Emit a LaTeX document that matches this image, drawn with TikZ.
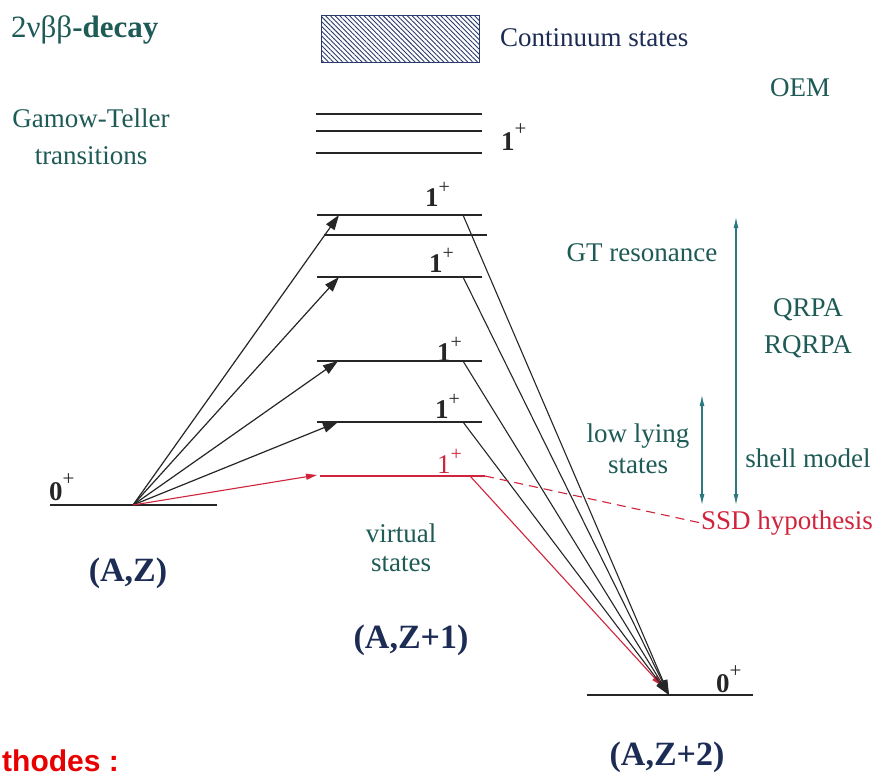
\documentclass[tikz,border=0pt]{standalone}
\usepackage{fontspec}
\setmainfont{Liberation Serif}
\newfontfamily\arialfont{Liberation Sans}
\usetikzlibrary{patterns.meta,arrows.meta}
\definecolor{tealtxt}{HTML}{1E5A56}
\definecolor{tealarr}{HTML}{2A7A80}
\definecolor{navy}{HTML}{1C2C55}
\definecolor{ssdred}{HTML}{D0243C}
\definecolor{brightred}{HTML}{E80000}
\definecolor{hatch}{HTML}{2A3A6A}
\begin{document}
\begin{tikzpicture}[x=1pt,y=-1pt,
  levelline/.style={line width=1.4pt, black!85},
  redline/.style={line width=1.2pt, ssdred},
  uparrow/.style={line width=1.2pt, black!85, -{Triangle[length=15pt,width=10pt]}},
  downline/.style={line width=1.1pt, black!85, -{Triangle[length=15pt,width=9pt]}},
  redarrow/.style={line width=1.1pt, ssdred, -{Triangle[length=11pt,width=6pt]}},
  tealdbl/.style={line width=1.1pt, tealarr, {Latex[length=11pt,width=5pt]}-{Latex[length=11pt,width=5pt]}},
  ttxt/.style={text=tealtxt, font=\fontsize{27}{37}\selectfont, inner sep=0pt, align=center},
  btxt/.style={text=navy, font=\bfseries\fontsize{34}{36}\selectfont, inner sep=0pt},
  lvl/.style={font=\bfseries\fontsize{27}{27}\selectfont, inner sep=0pt, anchor=base west, text=black!85},
]
\useasboundingbox (0,0) rectangle (880,777);
\clip (0,0) rectangle (880,777);
\fill[white] (0,0) rectangle (880,777);

% continuum box
\draw[line width=1pt, hatch, pattern={Lines[angle=-45,distance=3.4pt,line width=0.9pt]}, pattern color=hatch]
  (321,15) rectangle (479,62);
\node[ttxt, text=navy, anchor=west] (cont) at (500,38) {Continuum states};

% title
\node[ttxt, anchor=west, font=\fontsize{31}{32}\selectfont] (title) at (11,30) {2νββ\textbf{-decay}};
\node[ttxt] (oem) at (800,88) {OEM};
\node[ttxt] (gt) at (91,136.5) {Gamow-Teller\\transitions};

% upper GT levels
\draw[levelline] (316,114) -- (482,114);
\draw[levelline] (316,131) -- (482,131);
\draw[levelline] (316,153) -- (482,153);
\node[lvl] (ltop) at (501,150) {1\raisebox{15pt}{\mdseries\fontsize{21}{21}\selectfont +}};

% coordinates
\coordinate (g) at (133,505);
\coordinate (f) at (669,695);
\coordinate (fr) at (662,686);
\coordinate (a1) at (339,215);
\coordinate (a2) at (339,277);
\coordinate (a3) at (338,361);
\coordinate (a4) at (338,422);
\coordinate (ar) at (317,475);
\coordinate (d1) at (463,215);
\coordinate (d2) at (463,277);
\coordinate (d3) at (463,361);
\coordinate (d4) at (463,422);
\coordinate (dr) at (470,476);
\coordinate (re) at (485,476);

% intermediate levels
\draw[levelline] (317,215) -- (482,215);
\draw[levelline] (324,235) -- (487,235);
\draw[levelline] (317,277) -- (482,277);
\draw[levelline] (317,361) -- (482,361);
\draw[levelline] (317,422) -- (482,422);
\draw[redline] (320,476) -- (re);

\node[lvl] (l1) at (425,206) {1\raisebox{13pt}{\mdseries\fontsize{20}{20}\selectfont +}};
\node[lvl] (l2) at (429,272) {1\raisebox{13pt}{\mdseries\fontsize{20}{20}\selectfont +}};
\node[lvl] (l3) at (437,361) {1\raisebox{13pt}{\mdseries\fontsize{20}{20}\selectfont +}};
\node[lvl] (l4) at (435,418) {1\raisebox{13pt}{\mdseries\fontsize{20}{20}\selectfont +}};
\node[lvl, text=ssdred, font=\fontsize{27}{27}\selectfont] (lr) at (437,473) {1\raisebox{13pt}{\fontsize{20}{20}\selectfont +}};

% ground and final levels
\draw[levelline] (50,505) -- (217,505);
\draw[levelline] (587,695) -- (753,695);
\node[lvl] (z0) at (49,500) {0\raisebox{15pt}{\mdseries\fontsize{21}{21}\selectfont +}};
\node[lvl] (z2) at (716,692) {0\raisebox{15pt}{\mdseries\fontsize{21}{21}\selectfont +}};

% transitions up
\draw[uparrow] (g) -- (a1);
\draw[uparrow] (g) -- (a2);
\draw[uparrow] (g) -- (a3);
\draw[uparrow] (g) -- (a4);
\draw[redarrow] (g) -- (ar);

% transitions down
\draw[redarrow] (dr) -- (fr);
\draw[downline] (d1) -- (f);
\draw[downline] (d2) -- (f);
\draw[downline] (d3) -- (f);
\draw[downline] (d4) -- (f);

% SSD
\node[ttxt, text=ssdred, anchor=west] (ssd) at (701,523) {SSD hypothesis};
\draw[redline, line width=1.1pt, dash pattern=on 9pt off 6pt] (re) -- (ssd.west);

% right side methods
\coordinate (gtt) at (736,217);
\coordinate (gtb) at (736,505);
\coordinate (llt) at (702,395);
\coordinate (llb) at (702,505);
\draw[tealdbl] (gtt) -- (gtb);
\draw[tealdbl] (llt) -- (llb);
\node[ttxt] (gtres) at (642,253) {GT resonance};
\node[ttxt] (qrpa) at (808,328.5) {QRPA\\RQRPA};
\node[ttxt] (low) at (638,449) {low lying\\[-6pt]states};
\node[ttxt] (shell) at (808,458) {shell model};

% virtual states
\node[ttxt, font=\fontsize{27}{29}\selectfont] (virt) at (401,548) {virtual\\states};

% nucleus labels
\node[btxt] (az) at (128,573) {(A,Z)};
\node[btxt] (az1) at (411,640) {(A,Z+1)};
\node[btxt] (az2) at (667,757) {(A,Z+2)};

% text at the lower edge
\node[anchor=base west, inner sep=0pt, text=brightred, font=\arialfont\bfseries\fontsize{30}{30}\selectfont] (meth) at (2,771) {thodes :};
\end{tikzpicture}
\end{document}
